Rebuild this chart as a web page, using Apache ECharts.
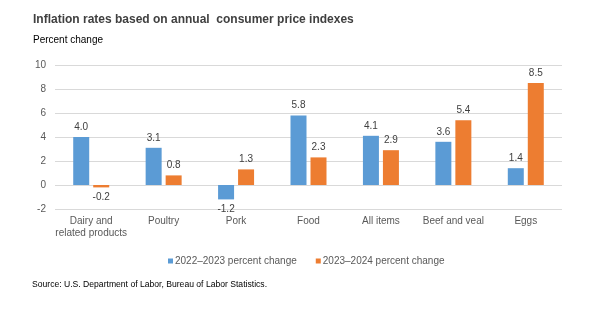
<!DOCTYPE html>
<html><head><meta charset="utf-8">
<script src="https://cdn.jsdelivr.net/npm/echarts@6/dist/echarts.min.js"></script>
<style>html,body{margin:0;padding:0;background:#fff}#c{width:600px;height:333px}</style>
</head><body><div id="c"></div>
<script>
const categories = ["Dairy and\nrelated products","Poultry","Pork","Food","All items","Beef and veal","Eggs"];
const series2223 = [4.0, 3.1, -1.2, 5.8, 4.1, 3.6, 1.4];
const series2324 = [-0.2, 0.8, 1.3, 2.3, 2.9, 5.4, 8.5];
const seriesNames = ["2022\u20132023 percent change","2023\u20132024 percent change"];
const titleText = "Inflation rates based on annual  consumer price indexes";
const yAxisTitle = "Percent change";
const sourceText = "Source: U.S. Department of Labor, Bureau of Labor Statistics.";

const font = "Arial, 'Liberation Sans', sans-serif";
function items(arr){
  return arr.map(v => ({value: v, label: {position: v < 0 ? 'bottom' : 'top'}}));
}
const chart = echarts.init(document.getElementById('c'));
chart.setOption({
  animation: false,
  textStyle: {fontFamily: font},
  title: [
    {text: titleText, left: 33, top: 14, padding: 0, textStyle: {fontSize: 12, fontWeight: 'bold', color: '#404040', fontFamily: font}},
    {text: yAxisTitle, left: 33, top: 35, padding: 0, textStyle: {fontSize: 10, fontWeight: 'normal', color: '#000', fontFamily: font}},
    {text: sourceText, left: 32, top: 280, padding: 0, textStyle: {fontSize: 8.6, fontWeight: 'normal', color: '#000', fontFamily: font}}
  ],
  legend: {
    top: 251, left: 163, itemWidth: 5, itemHeight: 5, itemGap: 19,
    icon: 'rect',
    textStyle: {fontSize: 10, color: '#595959', fontFamily: font, padding: [0,0,0,-3]},
    data: seriesNames
  },
  grid: {left: 55, right: 38, top: 65, bottom: 124},
  xAxis: {
    type: 'category', data: categories,
    axisLine: {show: false, onZero: false}, axisTick: {show: false},
    axisLabel: {color: '#595959', fontSize: 10, margin: 6, lineHeight: 12, interval: 0, fontFamily: font}
  },
  yAxis: {
    type: 'value', min: -2, max: 10, interval: 2,
    axisLine: {show: false}, axisTick: {show: false},
    axisLabel: {color: '#595959', fontSize: 10, margin: 9, fontFamily: font},
    splitLine: {lineStyle: {color: '#d9d9d9', width: 1}}
  },
  series: [
    {name: seriesNames[0], type: 'bar', data: items(series2223), barWidth: 16, barGap: '25%',
     itemStyle: {color: '#5B9BD5'},
     label: {show: true, formatter: p => p.value.toFixed(1), color: '#404040', fontSize: 10, distance: 5, fontFamily: font}},
    {name: seriesNames[1], type: 'bar', data: items(series2324), barWidth: 16,
     itemStyle: {color: '#ED7D31'},
     label: {show: true, formatter: p => p.value.toFixed(1), color: '#404040', fontSize: 10, distance: 5, fontFamily: font}}
  ]
});
</script></body></html>
